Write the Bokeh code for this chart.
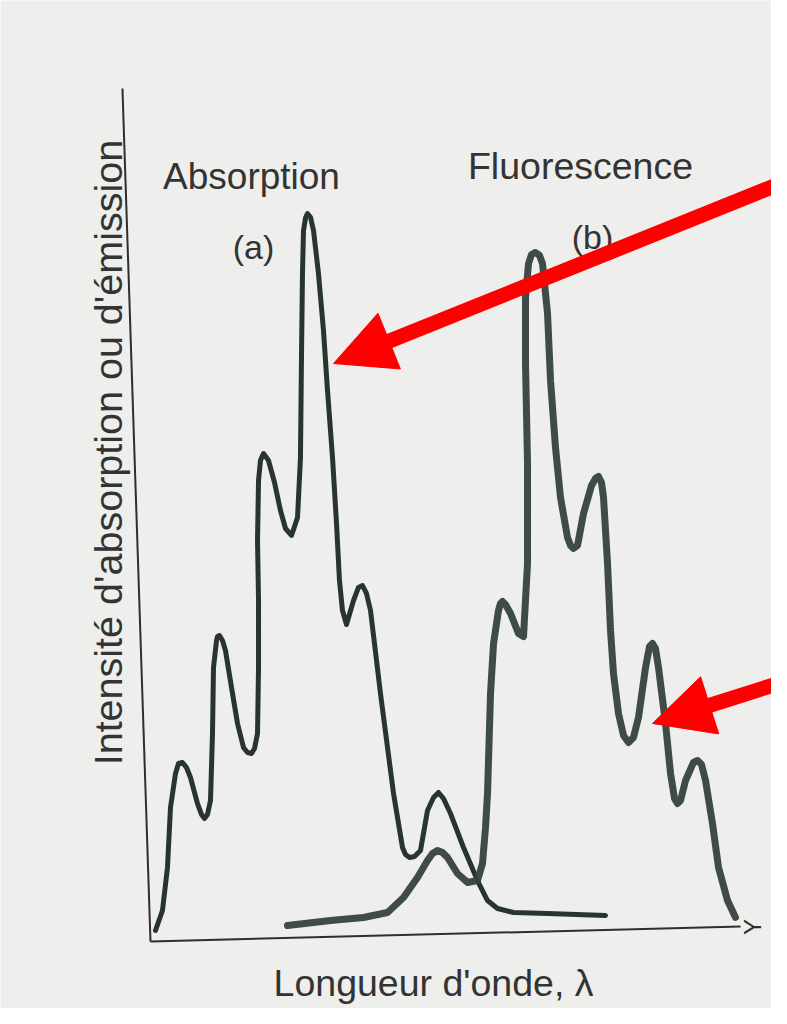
from bokeh.plotting import figure
from bokeh.models import Range1d, Arrow, NormalHead, Label
from bokeh.embed import file_html
from bokeh.resources import INLINE
import math

# ---- data (arbitrary wavelength units / relative intensity) ----
abs_x = [0.85, 2.03, 2.88, 3.39, 4.24, 4.75, 5.42, 6.10, 6.78, 7.97, 8.64, 9.15, 9.66, 10.17,
         10.51, 10.68, 11.19, 11.36, 11.69, 12.20, 12.71, 13.73, 14.75, 15.76, 16.44, 17.12, 17.63,
         18.14, 18.31, 18.31, 18.14, 18.31, 18.64, 19.15, 20.00, 21.02, 22.03, 22.88, 23.90, 24.92,
         25.42, 25.59, 25.76, 25.93, 26.27, 26.61, 27.12, 27.63, 28.47, 29.32, 30.00, 30.85, 31.53,
         32.03, 32.54, 33.22, 34.41, 35.25, 35.93, 36.61, 37.29, 38.98, 41.19, 42.71, 43.22, 43.90,
         44.75, 45.76, 46.95, 47.97, 48.81, 49.66, 50.85, 53.05, 55.42, 57.12, 58.81, 61.53, 67.29,
         77.12]
abs_y = [0.59, 2.95, 8.03, 15.11, 19.13, 20.31, 20.43, 19.83, 18.65, 15.58, 14.29, 13.81, 14.29, 15.94,
         23.85, 31.64, 34.83, 35.30, 35.42, 34.83, 33.65, 29.28, 25.03, 22.20, 21.61, 21.49, 22.08,
         23.85, 31.64, 39.55, 46.64, 53.72, 56.08, 56.91, 56.08, 53.48, 50.18, 48.05, 47.23, 49.35,
         56.43, 68.24, 78.16, 83.23, 84.70, 85.24, 84.80, 83.23, 78.16, 71.43, 64.35, 56.43, 48.64,
         41.91, 38.37, 36.72, 39.55, 41.09, 41.32, 40.38, 38.37, 28.57, 16.76, 10.39, 9.56, 9.21,
         9.33, 10.04, 14.76, 16.29, 16.88, 16.17, 14.40, 10.39, 6.49, 4.13, 3.19, 2.72, 2.60,
         2.36]

flu_x = [23.22, 30.51, 36.10, 40.17, 42.88, 45.25, 46.95, 47.80, 48.64, 49.49, 50.34, 52.03, 53.73,
         55.42, 56.27, 56.78, 57.12, 57.29, 57.63, 58.14, 58.98, 59.32, 59.66, 60.17, 61.02, 62.37,
         63.22, 63.90, 63.90, 63.56, 63.56, 64.07, 64.58, 65.25, 65.93, 66.44, 67.29, 67.80, 68.64,
         69.49, 70.68, 71.19, 71.69, 72.37, 73.39, 74.75, 75.42, 75.93, 76.44, 76.78, 77.46, 77.97,
         78.47, 79.32, 80.17, 81.02, 81.86, 82.71, 83.90, 84.58, 85.08, 85.59, 86.10, 87.29, 88.14,
         88.81, 89.32, 89.83, 90.68, 92.03, 92.71, 93.39, 94.07, 95.25, 96.27, 97.80, 99.15]
flu_y = [1.18, 1.77, 2.13, 2.72, 4.49, 6.85, 8.85, 9.68, 10.04, 9.80, 9.21, 7.32, 6.26,
         6.49, 8.50, 12.75, 16.76, 20.66, 28.57, 34.47, 38.37, 39.20, 39.43, 39.08, 38.02, 35.66,
         35.30, 43.92, 55.73, 67.53, 75.32, 79.34, 80.40, 80.64, 80.30, 79.34, 73.44, 65.53, 57.62,
         51.71, 46.99, 46.04, 45.69, 46.04, 49.82, 53.13, 53.96, 54.19, 53.48, 51.71, 43.92, 36.01,
         30.93, 26.21, 23.61, 22.79, 23.38, 25.74, 31.64, 34.12, 34.47, 33.88, 31.64, 25.03, 19.13,
         16.17, 15.58, 15.94, 18.30, 20.43, 20.66, 20.19, 18.30, 13.22, 8.03, 4.13, 2.13]

# hand-drawn (slightly skewed) axes of the scanned figure
xaxis_x = [0.0, 100.0]
xaxis_y = [-0.71, 1.06]
yaxis_x = [0.0, -4.75]
yaxis_y = [-0.71, 100.0]

labels_text = ["Absorption", "(a)", "Fluorescence", "(b)"]
y_title = "Intensité d'absorption ou d'émission"
x_title = "Longueur d'onde, λ"

# arrows (start -> tip), data units
arrows_xs = [110.17, 110.17]
arrows_ys = [89.73, 30.58]
arrows_xe = [31.02, 85.08]
arrows_ye = [67.53, 25.03]

FONT = "Liberation Sans"
BG = "#eeeeec"
INK = "#28342f"
TXT = "#333333"

p = figure(width=771, height=1008, output_backend="svg", toolbar_location=None,
           x_range=Range1d(-25.42, 105.25), y_range=Range1d(-8.62, 110.39),
           x_axis_location=None, y_axis_location=None, min_border=0, title=None)
p.grid.visible = False
p.outline_line_color = None
p.background_fill_color = BG
p.border_fill_color = BG

# axes
p.line(xaxis_x, xaxis_y, line_color="#2e2e2e", line_width=2)
p.line(yaxis_x, yaxis_y, line_color="#2e2e2e", line_width=2)

# spectra
p.line(abs_x, abs_y, line_color=INK, line_width=5, line_join="round", line_cap="round")
p.line(flu_x, flu_y, line_color="#35423d", line_width=7, line_join="round", line_cap="round",
       line_alpha=0.95)

# texts
def lab(x, y, t, size, angle=0.0):
    p.add_layout(Label(x=x, y=y, text=t, text_font=FONT, text_font_size=size,
                       text_color=TXT, text_align="center", text_baseline="alphabetic",
                       angle=angle))

lab(17.12, 89.66, labels_text[0], "37px")
lab(17.46, 81.25, labels_text[1], "34px")
lab(72.88, 90.86, labels_text[2], "37.5px")
lab(74.92, 82.43, labels_text[3], "34px")
lab(47.97, -5.60, x_title, "37.5px")
lab(-7.19, 57.02, y_title, "39.5px", math.pi / 2)

# small hand-drawn end mark of the wavelength axis
p.add_layout(Label(x=102.0, y=1.0, text="Y", text_font=FONT, text_font_size="24px",
                   text_color="#2e2e2e", text_align="center", text_baseline="middle",
                   angle=math.pi / 2))

# red arrows
for xs, ys, xe, ye in zip(arrows_xs, arrows_ys, arrows_xe, arrows_ye):
    p.add_layout(Arrow(x_start=xs, y_start=ys, x_end=xe, y_end=ye, line_color="#ff0000",
                       line_width=15,
                       end=NormalHead(size=60, fill_color="#ff0000", line_color="#ff0000",
                                      line_width=1)))

open("out.html", "w").write(file_html(p, INLINE))
